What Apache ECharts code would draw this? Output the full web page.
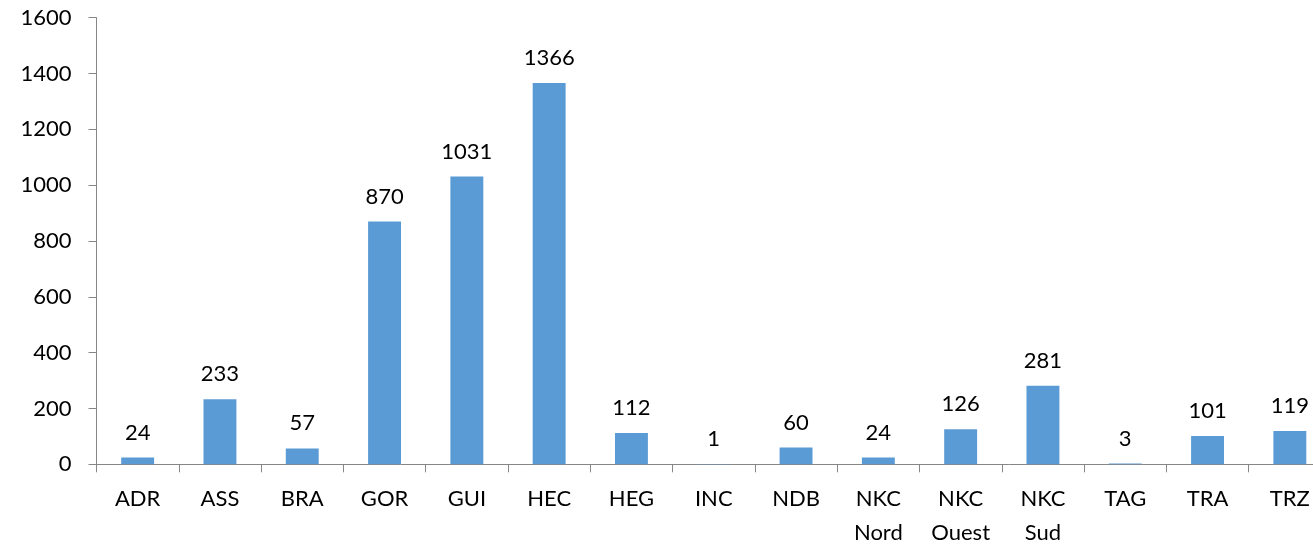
<!DOCTYPE html>
<html>
<head>
<meta charset="utf-8">
<script src="https://cdn.jsdelivr.net/npm/echarts@6/dist/echarts.min.js"></script>
<style>html,body{margin:0;padding:0;background:#fff;}#c{width:1313px;height:544px;}</style>
</head>
<body>
<div id="c"></div>
<script>
const categories = ['ADR','ASS','BRA','GOR','GUI','HEC','HEG','INC','NDB','NKC\nNord','NKC\nOuest','NKC\nSud','TAG','TRA','TRZ'];
const values = [24,233,57,870,1031,1366,112,1,60,24,126,281,3,101,119];
const yTicks = {min:0, max:1600, interval:200};

const chart = echarts.init(document.getElementById('c'), null, {renderer:'canvas'});
const font = 'Lato';
chart.setOption({
  animation:false,
  backgroundColor:'#ffffff',
  grid:{left:96.5, right:-18, top:17.7, bottom:79.7, containLabel:false, outerBoundsMode:'none'},
  xAxis:{
    type:'category', data:categories, boundaryGap:true,
    axisLine:{lineStyle:{color:'#868686', width:1}},
    axisTick:{show:true, length:8, alignWithLabel:false, lineStyle:{color:'#868686'}},
    axisLabel:{color:'#000', fontFamily:font, fontSize:22, lineHeight:34, margin:18, interval:0}
  },
  yAxis:{
    type:'value', min:yTicks.min, max:yTicks.max, interval:yTicks.interval,
    axisLine:{show:true, lineStyle:{color:'#868686', width:1}},
    axisTick:{show:true, length:8, inside:false, lineStyle:{color:'#868686'}},
    splitLine:{show:false},
    axisLabel:{color:'#000', fontFamily:font, fontSize:22, margin:25, formatter:function(v){return String(v);}}
  },
  series:[{
    type:'bar', data:values, barWidth:'40%',
    itemStyle:{color:'#5B9BD5'},
    label:{show:true, position:'top', distance:14, color:'#000', fontFamily:font, fontSize:22}
  }]
});
</script>
</body>
</html>
